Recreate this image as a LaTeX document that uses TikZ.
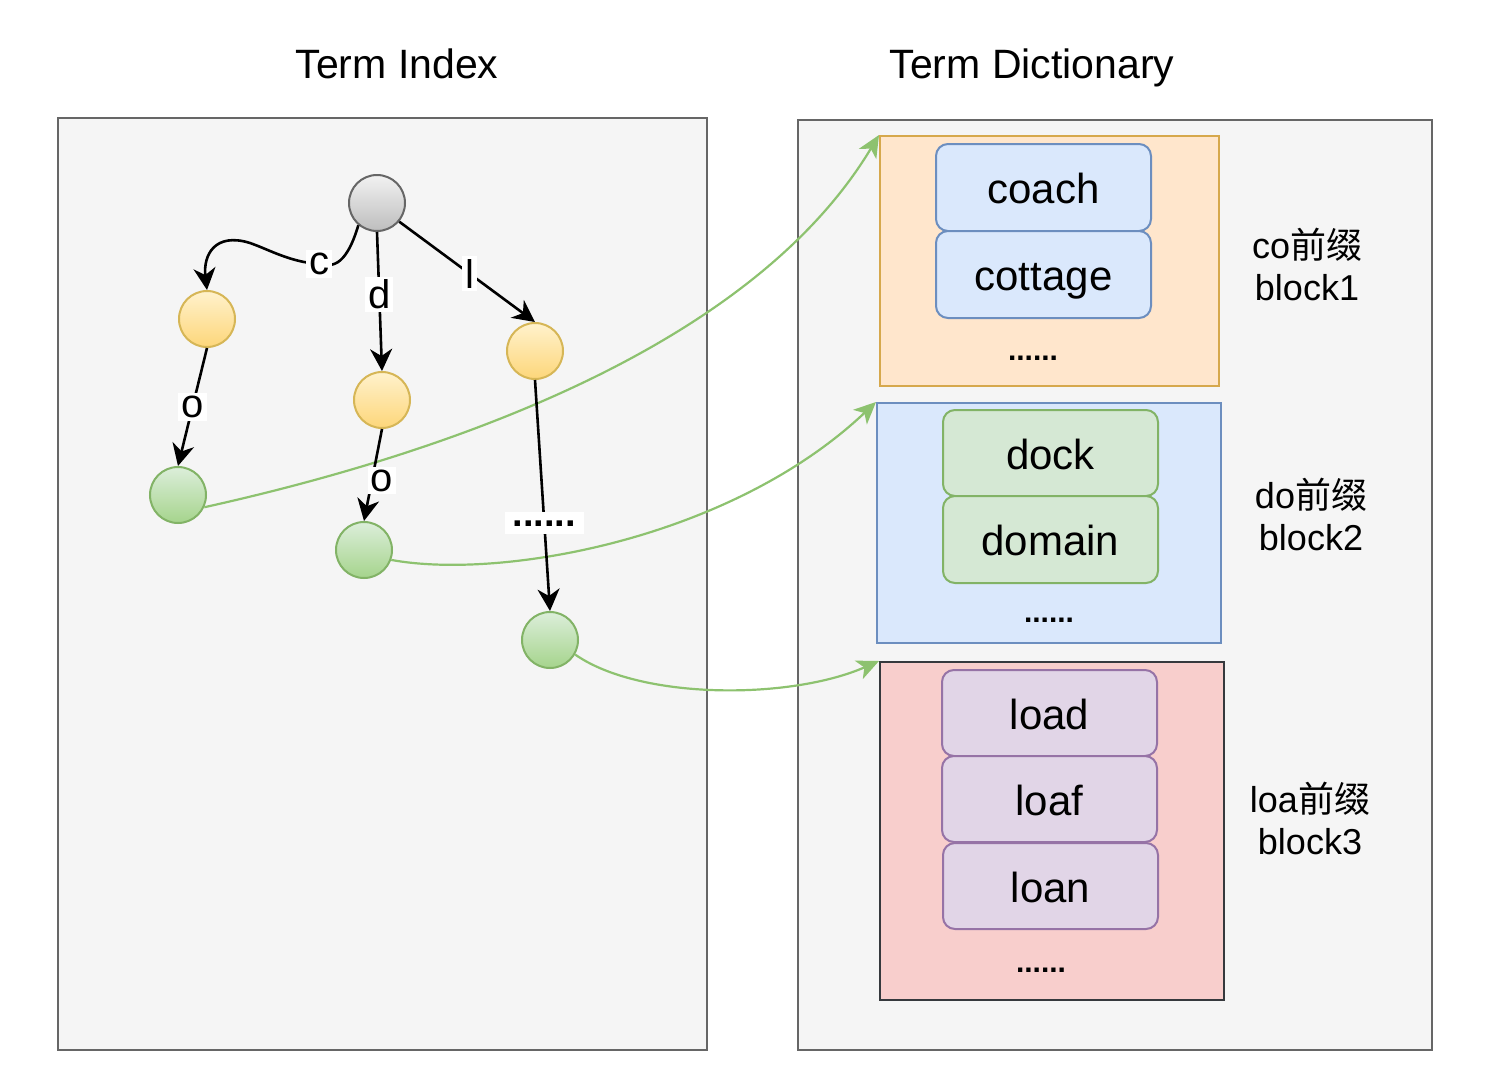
\documentclass[tikz,border=0pt]{standalone}
\usepackage{fontspec}
\setmainfont{Liberation Sans}
\newfontfamily\cjk{Noto Sans CJK SC}
\usetikzlibrary{arrows.meta}
\definecolor{panelfill}{HTML}{F5F5F5}
\definecolor{panelline}{HTML}{666666}
\definecolor{orfill}{HTML}{FFE6CC}
\definecolor{orline}{HTML}{D6A84C}
\definecolor{blfill}{HTML}{DAE8FC}
\definecolor{blline}{HTML}{6C8EBF}
\definecolor{rdfill}{HTML}{F8CECC}
\definecolor{rdline}{HTML}{36393D}
\definecolor{gnfill}{HTML}{D5E8D4}
\definecolor{gnline}{HTML}{82B366}
\definecolor{pufill}{HTML}{E1D5E7}
\definecolor{puline}{HTML}{9673A6}
\definecolor{linkgreen}{HTML}{8DC26F}
\definecolor{grtop}{HTML}{F2F2F2}
\definecolor{grbot}{HTML}{BDBDBD}
\definecolor{yetop}{HTML}{FFF2CC}
\definecolor{yebot}{HTML}{FDD67A}
\definecolor{yeline}{HTML}{D6B656}
\definecolor{gntop}{HTML}{DCEEDA}
\definecolor{gnbot}{HTML}{A5D48C}
\tikzset{
  panel/.style={draw=panelline, fill=panelfill, line width=1pt, inner sep=0pt},
  blockbox/.style={line width=1pt, inner sep=0pt},
  term/.style={rounded corners=6pt, line width=1pt, inner sep=0pt,
    minimum width=107.5pt, minimum height=43.5pt, text height=16pt, text depth=0pt,
    font=\fontsize{21}{24}\selectfont},
  dots/.style={font=\fontsize{15}{18}\selectfont\bfseries, inner sep=0pt},
  title/.style={font=\fontsize{20.5}{24}\selectfont, inner sep=0pt, anchor=base},
  side/.style={font=\fontsize{18}{21}\selectfont, align=center, inner sep=0pt},
  trienode/.style={circle, line width=1pt, minimum size=28pt, inner sep=0pt},
  rootn/.style={trienode, draw=panelline, top color=grtop, bottom color=grbot},
  yen/.style={trienode, draw=yeline, top color=yetop, bottom color=yebot},
  gnn/.style={trienode, draw=gnline, top color=gntop, bottom color=gnbot},
  tedge/.style={line width=1.3pt, -{Stealth[length=11pt, width=11pt, inset=3.5pt]}},
  elbl/.style={fill=white, inner sep=1.5pt, font=\fontsize{20}{22}\selectfont},
  link/.style={draw=linkgreen, line width=1.1pt, -{Stealth[length=11pt, width=10pt, inset=3pt, fill=linkgreen]}},
}
\begin{document}
\begin{tikzpicture}[x=0.5pt, y=-0.5pt]
\useasboundingbox (0,0) rectangle (1506,1092);
% titles
\node[title] (t1) at (397,78) {Term Index};
\node[title] (t2) at (1032,78) {Term Dictionary};
% panels
\node[panel, minimum width=324.5pt, minimum height=466pt] (lp) at (382.5,584) {};
\node[panel, minimum width=317pt, minimum height=465pt] (rp) at (1115,585) {};
% blocks
\node[blockbox, draw=orline, fill=orfill, minimum width=169.5pt, minimum height=125pt] (b1) at (1049.5,261) {};
\node[blockbox, draw=blline, fill=blfill, minimum width=172pt, minimum height=120pt] (b2) at (1049,523) {};
\node[blockbox, draw=rdline, fill=rdfill, minimum width=172pt, minimum height=169pt] (b3) at (1052,831) {};
% terms
\node[term, draw=blline, fill=blfill] (coach) at (1043.5,187.5) {coach};
\node[term, draw=blline, fill=blfill] (cottage) at (1043.5,274.5) {cottage};
\node[dots] (d1) at (1033,358) {......};
\node[term, draw=gnline, fill=gnfill, minimum height=43pt] (dock) at (1050.5,453) {dock};
\node[term, draw=gnline, fill=gnfill] (domain) at (1050.5,539.5) {domain};
\node[dots] (d2) at (1049,620) {......};
\node[term, draw=puline, fill=pufill, minimum height=43pt] (load) at (1049.5,713) {load};
\node[term, draw=puline, fill=pufill, minimum height=43pt] (loaf) at (1049.5,799) {loaf};
\node[term, draw=puline, fill=pufill, minimum height=43pt] (loan) at (1050.5,886) {loan};
\node[dots] (d3) at (1041,970) {......};
% side labels
\node[side] (s1) at (1307,264) {co{\cjk 前缀}\\block1};
\node[side] (s2) at (1311,514) {do{\cjk 前缀}\\block2};
\node[side] (s3) at (1310,818) {loa{\cjk 前缀}\\block3};
% trie nodes
\node[rootn] (r) at (377,203) {};
\node[yen] (y1) at (207,319) {};
\node[yen] (y2) at (382,400) {};
\node[yen] (y3) at (535,351) {};
\node[gnn] (g1) at (178,495) {};
\node[gnn] (g2) at (364,550) {};
\node[gnn] (g3) at (550,640) {};
% green links
\coordinate (b1c) at (b1.north west);
\coordinate (b2c) at (b2.north west);
\coordinate (b3c) at (b3.north west);
\draw[link] (g1.-25) .. controls (440,455) and (750,350) .. (b1c);
\draw[link] (g2.-20) .. controls (500,580) and (730,540) .. (b2c);
\draw[link] (g3.-30) .. controls (640,700) and (790,700) .. (b3c);
% trie edges
\draw[tedge] (r.-130) .. controls (345,270) and (330,266) .. (319,264) node[elbl] {c}
  .. controls (290,262) and (270,250) .. (250,243)
  .. controls (215,232) and (203,255) .. (y1.north);
\draw[tedge] (r.south) -- node[elbl, pos=0.45] {d} (y2.north);
\draw[tedge] (r.-40) -- node[elbl, pos=0.52] {l} (y3.north);
\draw[tedge] (y1.south) -- node[elbl, pos=0.5] {o} (g1.north);
\draw[tedge] (y2.south) -- node[elbl, pos=0.56, xshift=5pt] {o} (g2.north);
\draw[tedge] (y3.south) -- node[elbl, pos=0.62, font=\fontsize{19}{22}\selectfont\bfseries, inner sep=4pt] {......} (g3.north);
\end{tikzpicture}
\end{document}
